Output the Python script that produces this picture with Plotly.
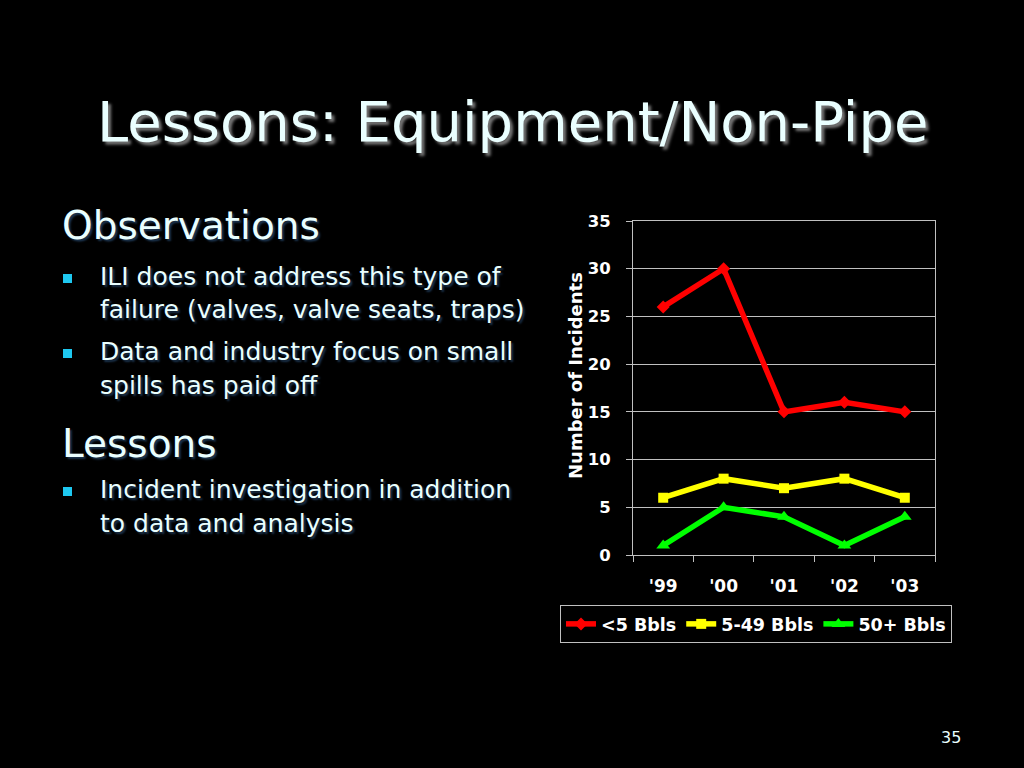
import plotly.graph_objects as go

# chart data
years = ["'99", "'00", "'01", "'02", "'03"]
small_spills = [26, 30, 15, 16, 15]
medium_spills = [6, 8, 7, 8, 6]
large_spills = [1, 5, 4, 1, 4]
y_ticks = [0, 5, 10, 15, 20, 25, 30, 35]

W, H = 1024, 768
TEXT = "#EAFFFF"
FONT = "DejaVu Sans"
SHADOW = "2px 2px 2px #1c3550"


def px(x):
    return x / W


def py(y):
    return 1 - y / H


fig = go.Figure()
fig.add_trace(go.Scatter(x=years, y=small_spills, name="<5 Bbls", mode="lines+markers",
                         line=dict(color="#FF0000", width=5.5),
                         marker=dict(symbol="diamond", size=10, color="#FF0000")))
fig.add_trace(go.Scatter(x=years, y=medium_spills, name="5-49 Bbls", mode="lines+markers",
                         line=dict(color="#FFFF00", width=5.5),
                         marker=dict(symbol="square", size=10, color="#FFFF00")))
fig.add_trace(go.Scatter(x=years, y=large_spills, name="50+ Bbls", mode="lines+markers",
                         line=dict(color="#00FF00", width=5.5),
                         marker=dict(symbol="triangle-up", size=12, color="#00FF00")))

fig.update_layout(
    width=W, height=H,
    margin=dict(l=0, r=0, t=0, b=0),
    paper_bgcolor="black", plot_bgcolor="black",
    font=dict(family=FONT, color="white"),
    showlegend=True,
    legend=dict(orientation="h", x=px(756), y=py(605), xanchor="center", yanchor="top",
                bordercolor="#C0C0C0", borderwidth=1, bgcolor="black",
                font=dict(size=17.5, color="white", weight="bold"),
                itemwidth=30, tracegroupgap=0),
    xaxis=dict(domain=[px(633), px(935)], range=[-0.5, 4.5], showgrid=False,
               showline=True, linecolor="#C0C0C0", linewidth=1, mirror=True,
               ticks="outside", tickson="boundaries", ticklen=6, tickcolor="#C0C0C0",
               tickfont=dict(size=17, color="white", weight="bold"),
               ticklabelstandoff=16, zeroline=False, automargin=False),
    yaxis=dict(domain=[py(555), py(221)], range=[0, 35], tickvals=y_ticks,
               showgrid=True, gridcolor="#C0C0C0", gridwidth=1,
               showline=True, linecolor="#C0C0C0", linewidth=1, mirror=True,
               ticks="outside", ticklen=6, tickcolor="#C0C0C0",
               tickfont=dict(size=16.5, color="white", weight="bold"),
               ticklabelstandoff=12, zeroline=False, automargin=False),
)

# y axis title
fig.add_annotation(x=px(576), y=py(376), xref="paper", yref="paper", text="Number of Incidents",
                   textangle=-90, showarrow=False, xanchor="center", yanchor="middle",
                   font=dict(size=18, color="white", weight="bold"))

# slide title
fig.add_annotation(x=px(512), y=py(122), xref="paper", yref="paper",
                   text="Lessons: Equipment/Non-Pipe", showarrow=False,
                   xanchor="center", yanchor="middle",
                   font=dict(family=FONT, size=56, color=TEXT, shadow="3px 3px 3px #777777"))

# headings
headings = [("Observations", 225), ("Lessons", 443)]
for txt, yy in headings:
    fig.add_annotation(x=px(60), y=py(yy), xref="paper", yref="paper", text=txt,
                       xanchor="left", yanchor="middle", showarrow=False,
                       font=dict(family=FONT, size=39, color=TEXT, shadow=SHADOW))

# bullet lines
lines = [
    ("ILI does not address this type of", 276, True),
    ("failure (valves, valve seats, traps)", 310, False),
    ("Data and industry focus on small", 351, True),
    ("spills has paid off", 385, False),
    ("Incident investigation in addition", 489, True),
    ("to data and analysis", 523, False),
]
for txt, yy, bullet in lines:
    fig.add_annotation(x=px(98), y=py(yy), xref="paper", yref="paper", text=txt,
                       xanchor="left", yanchor="middle", showarrow=False,
                       font=dict(family=FONT, size=25, color=TEXT, shadow=SHADOW))
    if bullet:
        fig.add_shape(type="rect", xref="paper", yref="paper",
                      x0=px(63), x1=px(72), y0=py(yy - 2), y1=py(yy + 7),
                      fillcolor="#1EC8F0", line=dict(width=0))

# page number
fig.add_annotation(x=px(951), y=py(737), xref="paper", yref="paper", text="35",
                   xanchor="center", yanchor="middle", showarrow=False,
                   font=dict(family=FONT, size=16, color=TEXT))

fig.write_html("out.html", config={"displayModeBar": False},
               post_script="document.body.style.margin='0';document.body.style.background='black';")
